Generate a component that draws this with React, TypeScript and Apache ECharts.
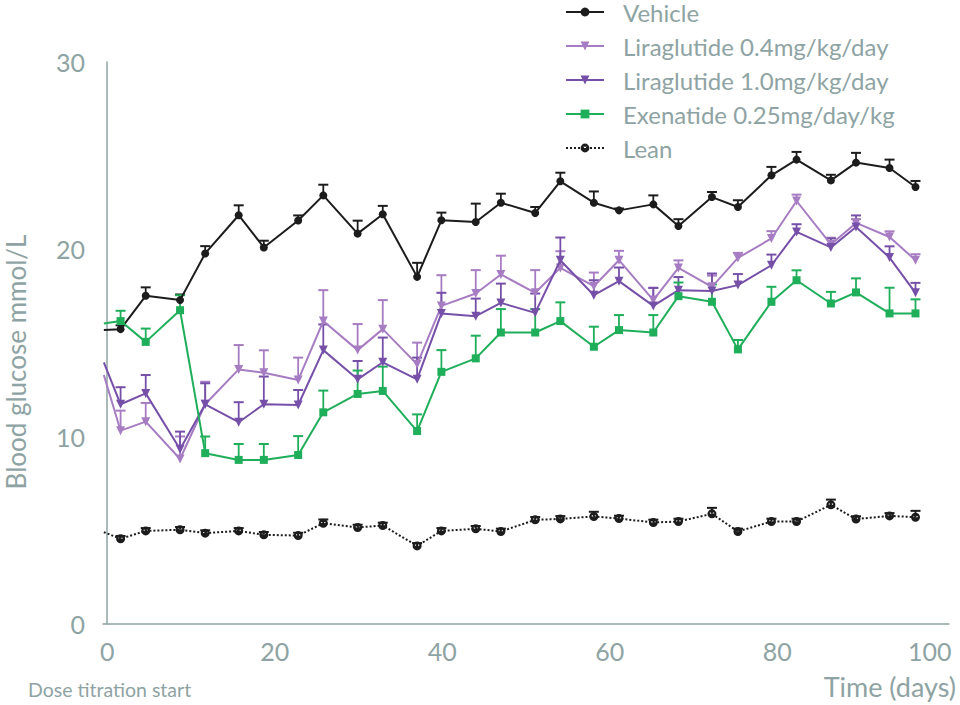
import React, { useEffect, useRef } from "react";
import * as echarts from "echarts";

// Days of measurement (first entry is the clipped baseline at the axis edge)
const days = [-0.4, 1.6, 4.6, 8.7, 11.7, 15.7, 18.7, 22.8, 25.8, 29.9, 32.9, 37.0, 39.9, 44.0, 47.0, 51.1, 54.1, 58.1, 61.1, 65.2, 68.2, 72.2, 75.3, 79.3, 82.3, 86.4, 89.4, 93.4, 96.5];

const vehicle = [15.69, 15.74, 17.52, 17.29, 19.78, 21.82, 20.1, 21.54, 22.88, 20.84, 21.87, 18.53, 21.55, 21.46, 22.49, 21.94, 23.63, 22.49, 22.08, 22.4, 21.25, 22.79, 22.26, 23.95, 24.79, 23.68, 24.63, 24.34, 23.33];
const vehicleErr = [0, 0.2, 0.45, 0.3, 0.39, 0.53, 0.36, 0.27, 0.57, 0.69, 0.45, 0.75, 0.41, 0.98, 0.48, 0.32, 0.46, 0.6, 0.1, 0.48, 0.36, 0.27, 0.36, 0.45, 0.41, 0.3, 0.52, 0.45, 0.32];

const lira04 = [13.29, 10.32, 10.8, 8.81, 11.73, 13.59, 13.41, 13.02, 16.17, 14.62, 15.74, 13.86, 16.98, 17.64, 18.66, 17.68, 19.01, 18.03, 19.42, 17.29, 19.01, 18.0, 19.54, 20.58, 22.58, 20.26, 21.41, 20.66, 19.42];
const lira04Err = [0, 1.07, 1.0, 1.2, 1.2, 1.3, 1.2, 1.2, 1.65, 1.39, 1.55, 1.16, 1.64, 1.25, 1.0, 1.21, 0.89, 0.73, 0.5, 0.66, 0.4, 0.6, 0.27, 0.39, 0.34, 0.36, 0.2, 0.3, 0.32];

const lira10 = [13.97, 11.73, 12.31, 9.33, 11.73, 10.77, 11.73, 11.69, 14.62, 13.06, 13.97, 13.06, 16.58, 16.43, 17.14, 16.61, 19.42, 17.55, 18.3, 16.98, 17.82, 17.78, 18.09, 19.15, 20.93, 20.1, 21.19, 19.56, 17.68];
const lira10Err = [0, 0.91, 0.98, 0.94, 1.12, 1.07, 1.48, 0.8, 1.37, 0.98, 1.32, 1.16, 1.1, 0.94, 1.03, 1.03, 1.21, 0.8, 0.73, 0.96, 0.7, 0.93, 0.59, 0.57, 0.41, 0.48, 0.62, 0.6, 0.53];

const exenatide = [16.04, 16.17, 15.06, 16.75, 9.12, 8.76, 8.76, 9.02, 11.3, 12.28, 12.44, 10.3, 13.46, 14.18, 15.56, 15.56, 16.17, 14.8, 15.69, 15.56, 17.5, 17.2, 14.66, 17.2, 18.35, 17.11, 17.7, 16.58, 16.58];
const exenatideErr = [0, 0.55, 0.71, 0.8, 0.89, 0.85, 0.85, 1.01, 1.16, 1.25, 1.3, 0.89, 1.16, 1.21, 1.25, 1.25, 1.0, 1.07, 0.8, 0.93, 0.73, 0.93, 0.5, 0.8, 0.53, 0.62, 0.75, 1.37, 0.75];

const lean = [4.9, 4.55, 4.97, 5.03, 4.85, 4.97, 4.76, 4.72, 5.38, 5.15, 5.26, 4.17, 4.97, 5.08, 4.94, 5.56, 5.61, 5.74, 5.63, 5.42, 5.47, 5.88, 4.94, 5.47, 5.47, 6.36, 5.6, 5.77, 5.7];
const leanErr = [0, 0.15, 0.15, 0.15, 0.15, 0.15, 0.15, 0.15, 0.2, 0.15, 0.15, 0.15, 0.15, 0.15, 0.15, 0.15, 0.15, 0.25, 0.15, 0.15, 0.15, 0.32, 0.15, 0.15, 0.15, 0.28, 0.15, 0.15, 0.34];

const seriesNames = [
  "Vehicle",
  "Liraglutide 0.4mg/kg/day",
  "Liraglutide 1.0mg/kg/day",
  "Exenatide 0.25mg/day/kg",
  "Lean",
];

const xTicks = [0, 20, 40, 60, 80, 100];

const AXIS = "#8ea3a3";
const FONT = "Lato, 'Open Sans', sans-serif";
const LEAN_SYMBOL =
  "path://M0 5 A5 5 0 1 1 10 5 A5 5 0 1 1 0 5 Z M2.6 3.6 L2.6 4.9 L7.4 4.9 L7.4 3.6 Z";

export default function App() {
  const ref = useRef<HTMLDivElement>(null);

  useEffect(() => {
    document.body.style.margin = "0";
    const chart = echarts.init(ref.current!, undefined, { renderer: "svg" });

    const defs = [
      { name: seriesNames[0], vals: vehicle, errs: vehicleErr, color: "#1c1c1c", symbol: "circle", size: 8, rotate: 0, dash: "solid" },
      { name: seriesNames[1], vals: lira04, errs: lira04Err, color: "#a67cc2", symbol: "triangle", size: 9, rotate: 180, dash: "solid" },
      { name: seriesNames[2], vals: lira10, errs: lira10Err, color: "#7650a8", symbol: "triangle", size: 9, rotate: 180, dash: "solid" },
      { name: seriesNames[3], vals: exenatide, errs: exenatideErr, color: "#1fae5a", symbol: "rect", size: 8, rotate: 0, dash: "solid" },
      { name: seriesNames[4], vals: lean, errs: leanErr, color: "#1c1c1c", symbol: LEAN_SYMBOL, size: 9, rotate: 0, dash: "dotted" },
    ];

    const series: any[] = [];
    defs.forEach((d, k) => {
      series.push({
        name: d.name + " error",
        type: "custom",
        z: 2,
        encode: { x: 0, y: 1 },
        data: days
          .map((day, i) => [day, d.vals[i], d.errs[i]])
          .filter((r) => r[2] > 0),
        renderItem: (params: any, api: any) => {
          const p = api.coord([api.value(0), api.value(1)]);
          const q = api.coord([api.value(0), api.value(1) + api.value(2)]);
          return {
            type: "group",
            children: [
              { type: "line", shape: { x1: p[0], y1: p[1], x2: q[0], y2: q[1] }, style: { stroke: d.color, lineWidth: 1.8 } },
              { type: "line", shape: { x1: q[0] - 5, y1: q[1], x2: q[0] + 5, y2: q[1] }, style: { stroke: d.color, lineWidth: 2 } },
            ],
          };
        },
      });
      series.push({
        name: d.name,
        type: "line",
        z: 3 + k,
        symbol: d.symbol,
        symbolSize: d.size,
        symbolRotate: d.rotate,
        showSymbol: true,
        itemStyle: { color: d.color },
        lineStyle: { color: d.color, width: 2, type: d.dash },
        data: days.map((day, i) =>
          i === 0 ? { value: [day, d.vals[i]], symbol: "none" } : [day, d.vals[i]]
        ),
      });
    });

    chart.setOption({
      animation: false,
      backgroundColor: "#ffffff",
      textStyle: { fontFamily: FONT },
      grid: { left: 103, right: 11, top: 62, bottom: 81, containLabel: false, outerBoundsMode: "none" },
      legend: {
        data: seriesNames,
        orient: "vertical",
        left: 565,
        top: 0,
        padding: 0,
        itemWidth: 38,
        itemHeight: 11,
        itemGap: 10,
        textStyle: { fontFamily: FONT, fontSize: 24, color: AXIS, lineHeight: 24, padding: [0, 0, 0, 14] },
      },
      xAxis: {
        type: "value",
        min: -0.5,
        max: 100.5,
        axisLine: { show: true, lineStyle: { color: AXIS, width: 1.5 } },
        axisTick: { show: false },
        splitLine: { show: false },
        axisLabel: {
          customValues: xTicks,
          fontFamily: FONT,
          fontSize: 25,
          color: AXIS,
          margin: 14,
          formatter: (v: number) => (v === 100 ? "{end|100}" : String(v)),
          rich: { end: { fontFamily: FONT, fontSize: 25, color: AXIS, padding: [0, 30, 0, 0] } },
        },
        name: "Time (days)",
        nameLocation: "end",
        nameGap: 7,
        nameTextStyle: { fontFamily: FONT, fontSize: 27, color: AXIS, align: "right", verticalAlign: "top", padding: [49, 0, 0, 0] },
      },
      yAxis: {
        type: "value",
        min: 0,
        max: 30,
        interval: 10,
        axisLine: { show: true, lineStyle: { color: AXIS, width: 1.5 } },
        axisTick: { show: false },
        splitLine: { show: false },
        axisLabel: { fontFamily: FONT, fontSize: 25, color: AXIS, margin: 18 },
        name: "Blood glucose mmol/L",
        nameLocation: "middle",
        nameGap: 74,
        nameTextStyle: { fontFamily: FONT, fontSize: 26, color: AXIS, padding: [0, 38, 0, 0] },
      },
      graphic: [
        {
          type: "text",
          left: 28,
          top: 679,
          style: { text: "Dose titration start", fontFamily: FONT, fontSize: 19.5, fill: AXIS },
        },
      ],
      series,
    });

    return () => chart.dispose();
  }, []);

  return <div ref={ref} style={{ width: 960, height: 705 }} />;
}
